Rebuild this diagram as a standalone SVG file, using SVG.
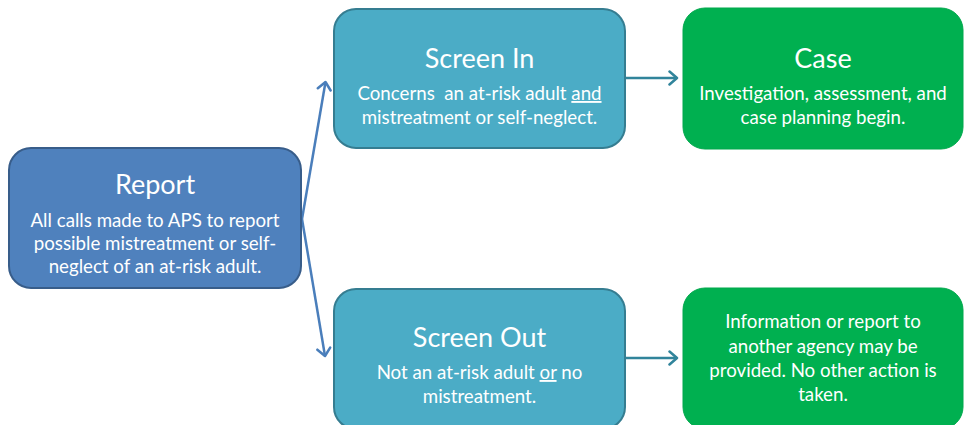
<svg xmlns="http://www.w3.org/2000/svg" width="964" height="425" viewBox="0 0 964 425">
<style>
.t{font-family:Lato,"Open Sans",sans-serif;fill:#fff;text-anchor:middle}
.h{font-size:27px}
.b{font-size:18.7px}
.u{text-decoration:underline}
.rep{fill:#4f81bd;stroke:#385d8a;stroke-width:2}
.scr{fill:#4bacc6;stroke:#357d91;stroke-width:2}
.grn{fill:#00b050;stroke:#00a84c;stroke-width:1}
.c1{fill:none;stroke:#4a7ebb;stroke-width:2.5}
.c2{fill:none;stroke:#31849b;stroke-width:2.5}
</style>
<defs>
<marker id="a1" markerWidth="12" markerHeight="16" refX="9" refY="8" orient="auto" markerUnits="userSpaceOnUse" viewBox="0 0 12 16">
<path d="M1.5,1.5 L9,8 L1.5,14.5" fill="none" stroke="#4a7ebb" stroke-width="2.5" stroke-linecap="round" stroke-linejoin="round"/>
</marker>
<marker id="a2" markerWidth="12" markerHeight="16" refX="9" refY="8" orient="auto" markerUnits="userSpaceOnUse" viewBox="0 0 12 16">
<path d="M1.5,1.5 L9,8 L1.5,14.5" fill="none" stroke="#31849b" stroke-width="2.5" stroke-linecap="round" stroke-linejoin="round"/>
</marker>
</defs>
<g id="connectors">
<path class="c1" d="M302,219 L325.5,82" marker-end="url(#a1)"/>
<path class="c1" d="M302,219 L325,356" marker-end="url(#a1)"/>
<path class="c2" d="M626,78 L677,78" marker-end="url(#a2)"/>
<path class="c2" d="M626,358 L677,358" marker-end="url(#a2)"/>
</g>
<g id="report">
<rect class="rep" x="9" y="148" width="292" height="140" rx="22"/>
<text class="t h" x="155" y="194">Report</text>
<text class="t b" x="155" y="227">All calls made to APS to report</text>
<text class="t b" x="155" y="250">possible mistreatment or self-</text>
<text class="t b" x="155" y="273">neglect of an at-risk adult.</text>
</g>
<g id="screen-in">
<rect class="scr" x="334" y="9" width="291" height="139" rx="22"/>
<text class="t h" x="479.5" y="68">Screen In</text>
<text class="t b" x="479.5" y="100" xml:space="preserve">Concerns  an at-risk adult <tspan class="u">and</tspan></text>
<text class="t b" x="479.5" y="124">mistreatment or self-neglect.</text>
</g>
<g id="screen-out">
<rect class="scr" x="334" y="289" width="291" height="140" rx="22"/>
<text class="t h" x="479.5" y="347">Screen Out</text>
<text class="t b" x="479.5" y="379">Not an at-risk adult <tspan class="u">or</tspan> no</text>
<text class="t b" x="479.5" y="403">mistreatment.</text>
</g>
<g id="case">
<rect class="grn" x="683" y="8" width="280" height="141" rx="22"/>
<text class="t h" x="823" y="68">Case</text>
<text class="t b" x="823" y="100">Investigation, assessment, and</text>
<text class="t b" x="823" y="124">case planning begin.</text>
</g>
<g id="no-action">
<rect class="grn" x="683" y="288" width="280" height="141" rx="22"/>
<text class="t b" x="823" y="328">Information or report to</text>
<text class="t b" x="823" y="353">another agency may be</text>
<text class="t b" x="823" y="377">provided. No other action is</text>
<text class="t b" x="823" y="401">taken.</text>
</g>
</svg>
